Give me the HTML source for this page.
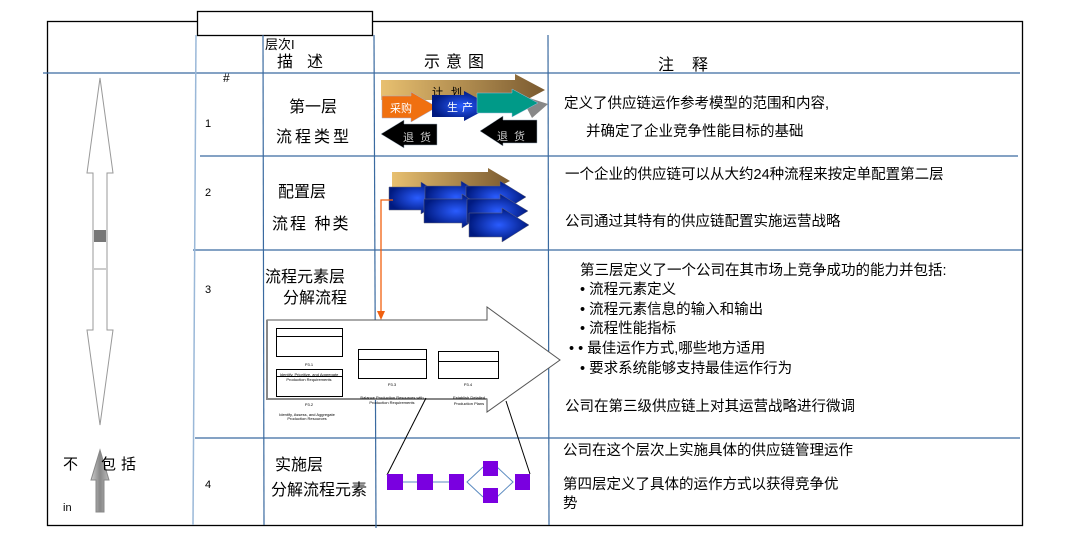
<!DOCTYPE html>
<html><head><meta charset="utf-8"><style>
body{margin:0;width:1090px;height:535px;background:#fff;overflow:hidden}
svg text{font-family:"Liberation Sans","Noto Sans CJK SC",sans-serif;fill:#000}
</style></head><body>
<svg width="1090" height="535" viewBox="0 0 1090 535" xmlns="http://www.w3.org/2000/svg">
<defs>
<linearGradient id="gold" x1="0" x2="1"><stop offset="0" stop-color="#e8c070"/><stop offset="1" stop-color="#7a5a30"/></linearGradient>
<radialGradient id="blue"><stop offset="0" stop-color="#2a5cff"/><stop offset="1" stop-color="#001a80"/></radialGradient>
<linearGradient id="gray" x1="0" x2="1"><stop offset="0" stop-color="#ccc"/><stop offset="0.5" stop-color="#888"/><stop offset="1" stop-color="#bbb"/></linearGradient>
</defs>
<rect x="47.5" y="21.5" width="975" height="504" fill="none" stroke="#000" stroke-width="1.3"/>
<rect x="197.5" y="11.5" width="175" height="24" fill="#fff" stroke="#000" stroke-width="1.3"/>
<g stroke="#3a6aa0" stroke-width="1.2">
<line x1="43" y1="73" x2="1020" y2="73"/>
<line x1="200" y1="156" x2="1018" y2="156"/>
<line x1="193" y1="250" x2="1022" y2="250"/>
<line x1="195" y1="438" x2="1020" y2="438"/>
<line x1="263" y1="35" x2="264" y2="525"/>
<line x1="374" y1="35" x2="376" y2="528"/>
<line x1="548" y1="35" x2="549" y2="525"/>
</g>
<line x1="196" y1="35" x2="193" y2="525" stroke="#9ab8d8" stroke-width="1.5"/>
<text x="265" y="49" font-size="13">层次I</text>
<text x="277" y="67" font-size="16" letter-spacing="14">描述</text>
<text x="424" y="67" font-size="16" letter-spacing="6">示意图</text>
<text x="658" y="70" font-size="16" letter-spacing="18">注释</text>
<text x="223" y="82" font-size="12">#</text>
<text x="205" y="127" font-size="11">1</text>
<text x="205" y="196" font-size="11">2</text>
<text x="205" y="293" font-size="11">3</text>
<text x="205" y="488" font-size="11">4</text>
<text x="289" y="112" font-size="16">第一层</text>
<text x="276" y="142" font-size="16" letter-spacing="3">流程类型</text>
<text x="278" y="197" font-size="16">配置层</text>
<text x="272" y="229" font-size="16" letter-spacing="2">流程 种类</text>
<text x="265" y="282" font-size="16">流程元素层</text>
<text x="283" y="303" font-size="16">分解流程</text>
<text x="275" y="470" font-size="16">实施层</text>
<text x="271" y="495" font-size="16">分解流程元素</text>
<g font-size="14.5">
<text x="564" y="108">定义了供应链运作参考模型的范围和内容,</text>
<text x="586" y="136">并确定了企业竞争性能目标的基础</text>
<text x="565" y="179">一个企业的供应链可以从大约24种流程来按定单配置第二层</text>
<text x="565" y="226">公司通过其特有的供应链配置实施运营战略</text>
<text x="580" y="275">第三层定义了一个公司在其市场上竞争成功的能力并包括:</text>
<text x="580" y="294">• 流程元素定义</text>
<text x="580" y="314">• 流程元素信息的输入和输出</text>
<text x="580" y="333">• 流程性能指标</text>
<text x="569" y="353">• • 最佳运作方式,哪些地方适用</text>
<text x="580" y="373">• 要求系统能够支持最佳运作行为</text>
<text x="565" y="411">公司在第三级供应链上对其运营战略进行微调</text>
<text x="563" y="455">公司在这个层次上实施具体的供应链管理运作</text>
<text x="563" y="489">第四层定义了具体的运作方式以获得竞争优</text>
<text x="563" y="508">势</text>
</g>
<path d="M100,78 L113,173 L107,173 L107,330 L113,330 L100,425 L87,330 L93,330 L93,173 L87,173 Z" fill="#fff" stroke="#999" stroke-width="1"/>
<rect x="94" y="230" width="12" height="12" fill="#777"/>
<line x1="94" y1="269" x2="106" y2="269" stroke="#999"/>
<path d="M100,450 L109,480 L104,480 L104,512 L96,512 L96,480 L91,480 Z" fill="url(#gray)" stroke="#888"/>
<text x="63" y="469" font-size="15">不</text>
<text x="101" y="469" font-size="15" letter-spacing="5">包括</text>
<text x="63" y="511" font-size="11">in</text>
<!-- level 1 -->
<path d="M381,80 L515,80 L515,74 L545,90 L515,106 L515,100 L381,100 Z" fill="url(#gold)"/>
<path d="M520,95 L548,104 L532,118 Z" fill="#888"/>
<text x="432" y="96" font-size="11" letter-spacing="8">计划</text>
<path d="M382,96 L411,96 L411,92 L437,107 L411,122 L411,118 L382,118 Z" fill="#f07010" stroke="#aac" stroke-width="0.5"/>
<text x="390" y="112" font-size="11" style="fill:#fff">采购</text>
<path d="M432,95 L464,95 L464,91 L492,106 L464,121 L464,117 L432,117 Z" fill="url(#blue)"/>
<text x="447" y="111" font-size="11" style="fill:#fff" letter-spacing="4">生产</text>
<path d="M477,93 L512,93 L512,89 L538,103 L512,117 L512,113 L477,113 Z" fill="#009a88" stroke="#9bd" stroke-width="0.5"/>
<path d="M381,134 L404,120 L404,124 L437,124 L437,145 L404,145 L404,148 Z" fill="#000" stroke="#9ab" stroke-width="0.5"/>
<text x="403" y="141" font-size="11" style="fill:#ccc" letter-spacing="6">退货</text>
<path d="M480,131 L503,116 L503,120 L537,120 L537,143 L503,143 L503,146 Z" fill="#000" stroke="#9ab" stroke-width="0.5"/>
<text x="497" y="140" font-size="11" style="fill:#ccc" letter-spacing="6">退货</text>
<!-- level 2 -->
<path d="M392,172 L488,172 L488,168 L510,181 L488,192 L488,188 L392,188 Z" fill="url(#gold)"/>
<path d="M389,187 L421,187 L421,182 L446,198 L421,214 L421,210 L389,210 Z" fill="url(#blue)" stroke="#667" stroke-width="0.5"/>
<path d="M425,186 L461,186 L461,181 L487,197 L461,213 L461,208 L425,208 Z" fill="url(#blue)" stroke="#667" stroke-width="0.5"/>
<path d="M466,186 L500,186 L500,181 L526,197 L500,213 L500,208 L466,208 Z" fill="url(#blue)" stroke="#667" stroke-width="0.5"/>
<path d="M424,199 L462,199 L462,194 L488,211 L462,228 L462,223 L424,223 Z" fill="url(#blue)" stroke="#667" stroke-width="0.5"/>
<path d="M467,199 L500,199 L500,194 L528,211 L500,228 L500,223 L467,223 Z" fill="url(#blue)" stroke="#667" stroke-width="0.5"/>
<path d="M469,213 L502,213 L502,208 L529,225 L502,242 L502,237 L469,237 Z" fill="url(#blue)" stroke="#667" stroke-width="0.5"/>
<polyline points="393,200 381,200 381,312" fill="none" stroke="#f06010" stroke-width="1.3"/>
<path d="M377,311 L385,311 L381,320 Z" fill="#f06010"/>
<!-- level 3 -->
<path d="M267,320 L487,320 L487,307 L560,360 L487,412 L487,399 L267,399 Z" fill="#fff" stroke="#555" stroke-width="1"/>
<path d="M267,320 L267,399 L487,399" fill="none" stroke="#888" stroke-width="2"/>
<g fill="none" stroke="#000" stroke-width="1">
<rect x="276.5" y="328.5" width="66" height="28"/><line x1="276" y1="336.5" x2="343" y2="336.5"/>
<rect x="276.5" y="369.5" width="66" height="27"/><line x1="276" y1="376.5" x2="343" y2="376.5"/>
<rect x="358.5" y="349.5" width="68" height="29"/><line x1="358" y1="359.5" x2="427" y2="359.5"/>
<rect x="438.5" y="351.5" width="60" height="27"/><line x1="438" y1="361.5" x2="499" y2="361.5"/>
</g>
<g font-size="4" text-anchor="middle">
<text x="309" y="366">P3.1</text>
<text x="309" y="376">Identify, Prioritize, and Aggregate</text>
<text x="309" y="381">Production Requirements</text>
<text x="309" y="406">P3.2</text>
<text x="307" y="416">Identify, Assess, and Aggregate</text>
<text x="307" y="420">Production Resources</text>
<text x="392" y="386">P3.3</text>
<text x="392" y="399">Balance Production Resources with</text>
<text x="392" y="404">Production Requirements</text>
<text x="468" y="386">P3.4</text>
<text x="469" y="399">Establish Detailed</text>
<text x="469" y="405">Production Plans</text>
</g>
<!-- level 4 -->
<line x1="426" y1="398" x2="387" y2="475" stroke="#000"/>
<line x1="506" y1="401" x2="530" y2="474" stroke="#000"/>
<g stroke="#5a8ac0" fill="none">
<line x1="403" y1="482" x2="417" y2="482"/><line x1="433" y1="482" x2="450" y2="482"/>
<polyline points="483,467 467,482 483,497"/><polyline points="497,467 513,482 497,497"/>
</g>
<g fill="#7a00e0">
<rect x="387" y="474" width="16" height="16"/><rect x="417" y="474" width="16" height="16"/>
<rect x="449" y="474" width="15" height="16"/><rect x="483" y="461" width="15" height="15"/>
<rect x="483" y="488" width="15" height="15"/><rect x="515" y="474" width="15" height="16"/>
</g>
</svg>
</body></html>
